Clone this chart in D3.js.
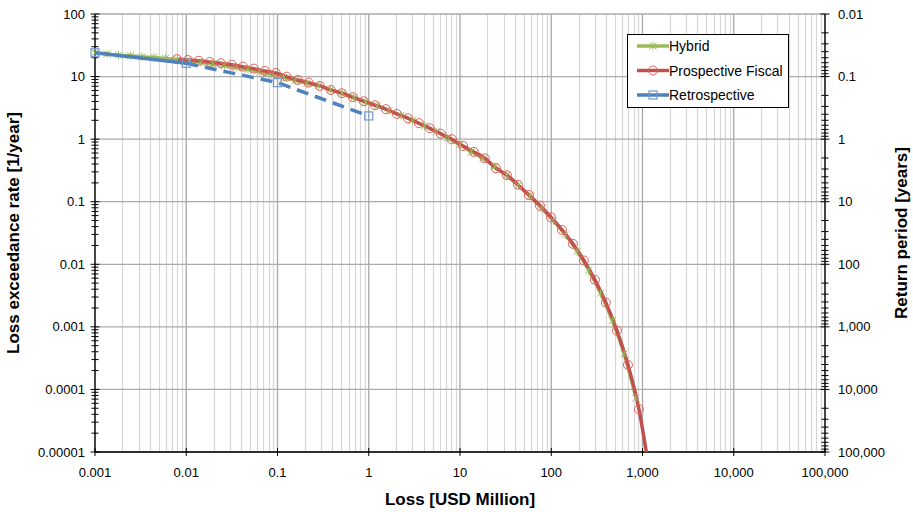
<!DOCTYPE html>
<html>
<head>
<meta charset="utf-8">
<script src="https://cdn.jsdelivr.net/npm/d3@7"></script>
<style>
  body { margin: 0; background: #fff; }
  text { font-family: "Liberation Sans", Arial, sans-serif; fill: #000; }
</style>
</head>
<body>
<div id="chart"></div>
<script>
// Hybrid (green, star markers)
var hybridLoss = [0.001, 0.00135, 0.00181, 0.00244, 0.00328, 0.00442, 0.00594, 0.0080, 0.0108, 0.0145,
  0.0195, 0.0262, 0.0353, 0.0475, 0.064, 0.0861, 0.116, 0.156, 0.210, 0.283,
  0.380, 0.511, 0.688, 0.925, 1.24, 1.67, 2.25, 3.03, 4.07, 5.48,
  7.37, 9.91, 13.3, 17.9, 24.1, 32.4, 43.6, 58.6, 78.9, 106,
  143, 192, 258, 347, 467, 628, 845];
var hybridRate = [24, 23, 22.1, 21.6, 20.8, 20.3, 19.6, 18.8, 17.8, 16.8,
  15.9, 15.0, 14.0, 13.0, 11.8, 10.8, 9.68, 8.67, 7.76, 7.18,
  6.15, 5.41, 4.64, 3.95, 3.39, 2.87, 2.39, 1.99, 1.63, 1.31,
  1.04, 0.807, 0.629, 0.488, 0.366, 0.263, 0.182, 0.122, 0.078, 0.0493,
  0.0295, 0.0161, 0.0080, 0.00345, 0.00126, 0.000371, 0.0000726];

// Prospective Fiscal (red, circle markers)
var fiscalLoss = [0.00787, 0.0104, 0.0137, 0.0181, 0.0239, 0.0316, 0.0417, 0.0550, 0.0726, 0.0958,
  0.126, 0.167, 0.220, 0.291, 0.384, 0.507, 0.670, 0.883, 1.17, 1.54,
  2.03, 2.68, 3.54, 4.68, 6.17, 8.15, 10.8, 14.2, 18.7, 24.7,
  32.7, 43.1, 56.9, 75.1, 99.1, 131, 173, 228, 301, 397,
  525, 693, 914];
var fiscalRate = [19, 18.4, 17.9, 17.1, 16.3, 15.5, 14.4, 13.4, 12.3, 11.4,
  9.96, 8.83, 8.0, 7.08, 6.11, 5.41, 4.67, 4.03, 3.48, 3.01,
  2.53, 2.16, 1.80, 1.49, 1.22, 0.996, 0.778, 0.625, 0.495, 0.343,
  0.265, 0.187, 0.128, 0.0867, 0.0565, 0.0355, 0.0212, 0.0115, 0.00564, 0.00244,
  0.000872, 0.000247, 0.0000484];
// last point of the red line, no marker
var fiscalEndLoss = 1101;
var fiscalEndRate = 0.00001;

// Retrospective (blue, square markers)
var retroLoss = [0.001, 0.01, 0.1, 1];
var retroRate = [24, 16.3, 8.0, 2.35];

var xTicks = [0.001, 0.01, 0.1, 1, 10, 100, 1000, 10000, 100000];
var xTickLabels = ["0.001", "0.01", "0.1", "1", "10", "100", "1,000", "10,000", "100,000"];
var yTicks = [100, 10, 1, 0.1, 0.01, 0.001, 0.0001, 0.00001];
var yTickLabels = ["100", "10", "1", "0.1", "0.01", "0.001", "0.0001", "0.00001"];
var rpTicks = [0.01, 0.1, 1, 10, 100, 1000, 10000, 100000];
var rpTickLabels = ["0.01", "0.1", "1", "10", "100", "1,000", "10,000", "100,000"];

var seriesNames = ["Hybrid", "Prospective Fiscal", "Retrospective"];

var colors = {
  hybrid: '#9bbb59',
  fiscal: '#c0504d',
  fiscalMarker: '#e0605c',
  retro: '#4f81bd',
  retroMarker: '#6f97cf'
};

var W = 913, H = 512;
var margin = {top: 14, right: 88, bottom: 60, left: 95};
var width = 730, height = 438;

var svg = d3.select('#chart').append('svg')
  .attr('width', W)
  .attr('height', H);

var g = svg.append('g')
  .attr('transform', 'translate(' + margin.left + ',' + margin.top + ')');

var x = d3.scaleLog().domain([0.001, 100000]).range([0, width]);
var y = d3.scaleLog().domain([0.00001, 100]).range([height, 0]);
var rp = d3.scaleLog().domain([0.01, 100000]).range([0, height]);

// vertical grid: minor first, then major
g.append('g').selectAll('line')
  .data(x.ticks().filter(function(d) { return xTicks.indexOf(d) < 0; }))
  .enter().append('line')
  .attr('x1', function(d) { return Math.round(x(d)) + 0.5; })
  .attr('x2', function(d) { return Math.round(x(d)) + 0.5; })
  .attr('y1', 0).attr('y2', height)
  .attr('stroke', '#d6d6d6').attr('stroke-width', 1.2);

g.append('g').selectAll('line')
  .data(xTicks)
  .enter().append('line')
  .attr('x1', function(d) { return x(d); })
  .attr('x2', function(d) { return x(d); })
  .attr('y1', 0).attr('y2', height)
  .attr('stroke', '#a8a8a8').attr('stroke-width', 1.3);

// horizontal grid (decades only)
g.append('g').selectAll('line')
  .data(yTicks)
  .enter().append('line')
  .attr('x1', 0).attr('x2', width)
  .attr('y1', function(d) { return y(d); })
  .attr('y2', function(d) { return y(d); })
  .attr('stroke', '#aaaaaa').attr('stroke-width', 1.3);

// axes lines
g.append('line').attr('x1', 0).attr('x2', 0).attr('y1', 0).attr('y2', height)
  .attr('stroke', '#000').attr('stroke-width', 1.3);
g.append('line').attr('x1', width).attr('x2', width).attr('y1', 0).attr('y2', height)
  .attr('stroke', '#000').attr('stroke-width', 1.3);
g.append('line').attr('x1', 0).attr('x2', width).attr('y1', height).attr('y2', height)
  .attr('stroke', '#000').attr('stroke-width', 1.3);

// left ticks
g.append('g').selectAll('line')
  .data(y.ticks())
  .enter().append('line')
  .attr('x1', function(d) { return yTicks.indexOf(d) >= 0 ? -4.5 : -3.5; })
  .attr('x2', function(d) { return yTicks.indexOf(d) >= 0 ? 4.5 : 3.5; })
  .attr('y1', function(d) { return y(d); })
  .attr('y2', function(d) { return y(d); })
  .attr('stroke', '#000').attr('stroke-width', 1);

// right ticks (return period)
g.append('g').selectAll('line')
  .data(rp.ticks())
  .enter().append('line')
  .attr('x1', function(d) { return width + (rpTicks.indexOf(d) >= 0 ? -4.5 : -3.5); })
  .attr('x2', function(d) { return width + (rpTicks.indexOf(d) >= 0 ? 4.5 : 3.5); })
  .attr('y1', function(d) { return rp(d); })
  .attr('y2', function(d) { return rp(d); })
  .attr('stroke', '#000').attr('stroke-width', 1);

// bottom ticks
g.append('g').selectAll('line')
  .data(xTicks)
  .enter().append('line')
  .attr('x1', function(d) { return x(d); })
  .attr('x2', function(d) { return x(d); })
  .attr('y1', height - 4).attr('y2', height + 4)
  .attr('stroke', '#000').attr('stroke-width', 1);

// tick labels
g.append('g').selectAll('text')
  .data(xTicks)
  .enter().append('text')
  .attr('x', function(d) { return x(d); })
  .attr('y', height + 25)
  .attr('text-anchor', 'middle')
  .style('font-size', '13px')
  .text(function(d, i) { return xTickLabels[i]; });

g.append('g').selectAll('text')
  .data(yTicks)
  .enter().append('text')
  .attr('x', -10)
  .attr('y', function(d) { return y(d) + 4.5; })
  .attr('text-anchor', 'end')
  .style('font-size', '13px')
  .text(function(d, i) { return yTickLabels[i]; });

g.append('g').selectAll('text')
  .data(rpTicks)
  .enter().append('text')
  .attr('x', width + 13)
  .attr('y', function(d) { return rp(d) + 4.5; })
  .attr('text-anchor', 'start')
  .style('font-size', '13px')
  .text(function(d, i) { return rpTickLabels[i]; });

// axis titles
svg.append('text')
  .attr('x', margin.left + width / 2)
  .attr('y', 505)
  .attr('text-anchor', 'middle')
  .style('font-size', '17px').style('font-weight', 'bold')
  .text('Loss [USD Million]');

svg.append('text')
  .attr('transform', 'translate(19,' + (margin.top + height / 2) + ') rotate(-90)')
  .attr('text-anchor', 'middle')
  .style('font-size', '17px').style('font-weight', 'bold')
  .text('Loss exceedance rate [1/year]');

svg.append('text')
  .attr('transform', 'translate(907,' + (margin.top + height / 2) + ') rotate(-90)')
  .attr('text-anchor', 'middle')
  .style('font-size', '17px').style('font-weight', 'bold')
  .text('Return period [years]');

// series
var plot = g.append('g');

var line = d3.line()
  .x(function(d) { return x(d[0]); })
  .y(function(d) { return y(d[1]); })
  .curve(d3.curveMonotoneX);

var hybridPts = hybridLoss.map(function(v, i) { return [v, hybridRate[i]]; });
var fiscalPts = fiscalLoss.map(function(v, i) { return [v, fiscalRate[i]]; });
var fiscalLine = fiscalPts.concat([[fiscalEndLoss, fiscalEndRate]]);
var retroPts = retroLoss.map(function(v, i) { return [v, retroRate[i]]; });

var starPath = 'M-3.5,-3.5L3.5,3.5M-3.5,3.5L3.5,-3.5M0,-4L0,4';

plot.append('path')
  .datum(hybridPts)
  .attr('d', line)
  .attr('fill', 'none')
  .attr('stroke', colors.hybrid)
  .attr('stroke-width', 3.2);

plot.append('path')
  .datum(fiscalLine)
  .attr('d', line)
  .attr('fill', 'none')
  .attr('stroke', colors.fiscal)
  .attr('stroke-width', 3.5);

plot.selectAll('path.star')
  .data(hybridPts)
  .enter().append('path')
  .attr('class', 'star')
  .attr('transform', function(d) { return 'translate(' + x(d[0]) + ',' + y(d[1]) + ')'; })
  .attr('d', starPath)
  .attr('fill', 'none')
  .attr('stroke', colors.hybrid)
  .attr('stroke-width', 1);

plot.selectAll('circle.fiscal')
  .data(fiscalPts)
  .enter().append('circle')
  .attr('class', 'fiscal')
  .attr('cx', function(d) { return x(d[0]); })
  .attr('cy', function(d) { return y(d[1]); })
  .attr('r', 4.5)
  .attr('fill', 'none')
  .attr('stroke', colors.fiscalMarker)
  .attr('stroke-width', 1);

var straight = d3.line()
  .x(function(d) { return x(d[0]); })
  .y(function(d) { return y(d[1]); });

// first segment solid, the rest dashed
plot.append('path')
  .datum(retroPts.slice(0, 2))
  .attr('d', straight)
  .attr('fill', 'none')
  .attr('stroke', colors.retro)
  .attr('stroke-width', 3.5);

plot.append('path')
  .datum(retroPts.slice(1))
  .attr('d', straight)
  .attr('fill', 'none')
  .attr('stroke', colors.retro)
  .attr('stroke-width', 3.5)
  .attr('stroke-dasharray', '12,7');

plot.selectAll('rect.retro')
  .data(retroPts)
  .enter().append('rect')
  .attr('class', 'retro')
  .attr('x', function(d) { return x(d[0]) - 4; })
  .attr('y', function(d) { return y(d[1]) - 4; })
  .attr('width', 8).attr('height', 8)
  .attr('fill', 'none')
  .attr('stroke', colors.retroMarker)
  .attr('stroke-width', 1.2);

// legend
var legend = svg.append('g').attr('transform', 'translate(627,34)');
legend.append('rect')
  .attr('x', 0.5).attr('y', 0.5)
  .attr('width', 161).attr('height', 73)
  .attr('fill', '#fff')
  .attr('stroke', '#000').attr('stroke-width', 1);

var legColors = [colors.hybrid, colors.fiscal, colors.retro];
seriesNames.forEach(function(name, i) {
  var ly = 12 + i * 24.5;
  var item = legend.append('g').attr('transform', 'translate(0,' + ly + ')');
  item.append('line')
    .attr('x1', 10).attr('x2', 42)
    .attr('y1', 0).attr('y2', 0)
    .attr('stroke', legColors[i]).attr('stroke-width', 3.5);
  if (i === 0) {
    item.append('path')
      .attr('transform', 'translate(26,0)')
      .attr('d', starPath)
      .attr('fill', 'none').attr('stroke', colors.hybrid).attr('stroke-width', 1);
  } else if (i === 1) {
    item.append('circle')
      .attr('cx', 26).attr('cy', 0).attr('r', 4.5)
      .attr('fill', 'none').attr('stroke', colors.fiscalMarker).attr('stroke-width', 1);
  } else {
    item.append('rect')
      .attr('x', 22).attr('y', -4).attr('width', 8).attr('height', 8)
      .attr('fill', 'none').attr('stroke', colors.retroMarker).attr('stroke-width', 1.2);
  }
  item.append('text')
    .attr('x', 42)
    .attr('y', 5)
    .style('font-size', '14px')
    .text(name);
});
</script>
</body>
</html>
